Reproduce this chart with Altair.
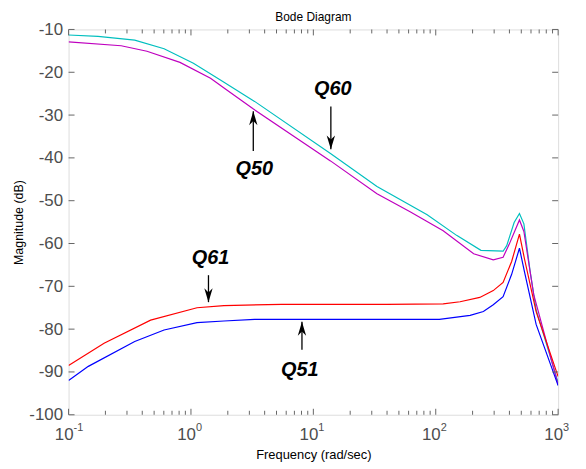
import altair as alt
import pandas as pd

# ---------------- data ----------------
freq_q60 = [0.1, 0.174, 0.347, 0.603, 1.047, 1.74, 3.31, 13.8, 33.1, 85.1, 148, 234, 355, 380, 437, 483, 525, 589, 661, 1000]
mag_q60 = [-11.3, -11.6, -12.5, -14.5, -17.9, -21.8, -26.8, -39.0, -46.7, -53.3, -58.1, -61.6, -61.8, -60.5, -55.1, -53.0, -55.4, -66.3, -75.5, -92.5]

freq_q50 = [0.1, 0.269, 0.437, 0.813, 1.445, 1.95, 3.24, 13.8, 33.1, 61.7, 115, 204, 295, 355, 398, 483, 525, 631, 1000]
mag_q50 = [-12.9, -13.8, -15.1, -17.7, -21.4, -24.1, -28.6, -40.7, -48.4, -52.6, -57.0, -62.4, -63.8, -63.2, -60.2, -54.5, -57.2, -71.9, -93.0]

freq_q61 = [0.1, 0.195, 0.468, 1.12, 1.86, 5.5, 39.8, 115, 158, 229, 295, 355, 417, 483, 530, 661, 1000]
mag_q61 = [-88.5, -83.3, -77.9, -75.0, -74.5, -74.2, -74.2, -74.1, -73.6, -72.6, -71.0, -69.1, -64.2, -57.8, -63.5, -75.9, -91.1]

freq_q51 = [0.1, 0.145, 0.347, 0.603, 1.12, 1.86, 3.31, 107, 191, 245, 295, 355, 417, 483, 530, 661, 1000]
mag_q51 = [-92.0, -88.7, -82.9, -80.2, -78.5, -78.1, -77.7, -77.7, -76.8, -75.9, -74.3, -72.4, -67.2, -61.1, -66.5, -78.9, -93.2]

series_names = ["Q60", "Q50", "Q61", "Q51"]
series_colors = ["#00BFBF", "#BF00BF", "#FF0000", "#0000FF"]

chart_title = "Bode Diagram"

# annotations
ann_labels = ["Q60", "Q50", "Q61", "Q51"]
ann_text_freq = [14.4, 3.29, 1.445, 7.76]
ann_text_mag = [-24.0, -42.6, -63.5, -89.5]
arrow_freq = [13.9, 3.23, 1.39, 8.07]
arrow_from = [-28.0, -38.4, -67.4, -84.8]
arrow_to = [-38.0, -29.1, -73.7, -78.3]

# axis ticks / labels
x_decades = [0.1, 1, 10, 100, 1000]
x_exponents = ["-1", "0", "1", "2", "3"]
x_minor = [k * d for d in [0.1, 1, 10, 100] for k in range(2, 10)]
y_ticks = [-100, -90, -80, -70, -60, -50, -40, -30, -20, -10]

# ---------------- build tables ----------------
rows = []
for name, fs, ms in zip(series_names,
                        [freq_q60, freq_q50, freq_q61, freq_q51],
                        [mag_q60, mag_q50, mag_q61, mag_q51]):
    for f, m in zip(fs, ms):
        rows.append({"series": name, "freq": f, "mag": m})
lines_df = pd.DataFrame(rows)

ann_df = pd.DataFrame({"label": ann_labels, "freq": ann_text_freq, "mag": ann_text_mag})
arr_df = pd.DataFrame({"freq": arrow_freq, "mag": arrow_from, "mag2": arrow_to})
arr_df["dir"] = ["down" if t < f else "up" for f, t in zip(arrow_from, arrow_to)]
head_df = pd.DataFrame({"freq": arrow_freq, "mag": arrow_to, "dir": arr_df["dir"]})

xmaj_df = pd.DataFrame({"freq": x_decades, "exp": x_exponents})
xmin_df = pd.DataFrame({"freq": x_minor})
yt_df = pd.DataFrame({"mag": y_ticks})
title_df = pd.DataFrame({"t": [chart_title]})

W, H = 493, 388
FONT = "Liberation Sans"
AX = "#666666"

X = alt.X("freq:Q",
          scale=alt.Scale(type="log", domain=[0.1, 1000], nice=False),
          axis=alt.Axis(labels=False, ticks=False, domain=False, grid=False,
                        title="Frequency  (rad/sec)", titleFontSize=13,
                        titleFontWeight="normal", titleColor="black",
                        titlePadding=34, titleFont=FONT))
Y = alt.Y("mag:Q",
          scale=alt.Scale(domain=[-100, -10], nice=False, zero=False),
          axis=alt.Axis(values=y_ticks, labelExpr="datum.value + ''",
                        labelFontSize=17, labelColor="#4d4d4d", labelFont=FONT,
                        labelPadding=6, ticks=False, domain=False, grid=False,
                        title="Magnitude (dB)", titleFontSize=12.5,
                        titleFontWeight="normal", titleColor="black",
                        titlePadding=3, titleFont=FONT))

lines = alt.Chart(lines_df).mark_line(strokeWidth=1.2, clip=True).encode(
    x=X, y=Y,
    color=alt.Color("series:N", scale=alt.Scale(domain=series_names, range=series_colors), legend=None),
    detail="series:N",
)

# inward ticks
bot_major = alt.Chart(xmaj_df).mark_rule(color=AX, strokeWidth=1).encode(
    x=X, y=alt.value(H), y2=alt.value(H - 6))
top_major = alt.Chart(xmaj_df).mark_rule(color=AX, strokeWidth=1).encode(
    x=X, y=alt.value(0), y2=alt.value(6))
bot_minor = alt.Chart(xmin_df).mark_rule(color=AX, strokeWidth=1).encode(
    x=X, y=alt.value(H), y2=alt.value(H - 4))
top_minor = alt.Chart(xmin_df).mark_rule(color=AX, strokeWidth=1).encode(
    x=X, y=alt.value(0), y2=alt.value(4))
left_t = alt.Chart(yt_df).mark_rule(color=AX, strokeWidth=1).encode(
    y=Y, x=alt.value(0), x2=alt.value(6))
right_t = alt.Chart(yt_df).mark_rule(color=AX, strokeWidth=1).encode(
    y=Y, x=alt.value(W), x2=alt.value(W - 6))

# x tick labels 10^n
lab10 = alt.Chart(xmaj_df).mark_text(align="right", baseline="alphabetic", dx=5,
                                     fontSize=17, color="#4d4d4d", font=FONT).encode(
    x=X, y=alt.value(H + 25), text=alt.value("10"))
labexp = alt.Chart(xmaj_df).mark_text(align="left", baseline="alphabetic", dx=5, dy=-9,
                                      fontSize=11, color="#4d4d4d", font=FONT).encode(
    x=X, y=alt.value(H + 25), text="exp:N")

# chart title as text
title_txt = alt.Chart(title_df).mark_text(fontSize=12, font=FONT, color="black",
                                          baseline="middle", align="center").encode(
    x=alt.value(W / 2), y=alt.value(-13), text="t:N")

# annotations
shafts = alt.Chart(arr_df).mark_rule(color="black", strokeWidth=1.3).encode(
    x=X, y=Y, y2="mag2:Q")
heads_down = alt.Chart(head_df).transform_filter("datum.dir == 'down'").mark_point(
    shape="M0,0L-0.6,-2L0,-1.4L0.6,-2Z", size=196, filled=True, color="black", opacity=1).encode(x=X, y=Y)
heads_up = alt.Chart(head_df).transform_filter("datum.dir == 'up'").mark_point(
    shape="M0,0L-0.6,2L0,1.4L0.6,2Z", size=196, filled=True, color="black", opacity=1).encode(x=X, y=Y)
ann_text = alt.Chart(ann_df).mark_text(fontSize=20, fontWeight="bold", fontStyle="italic",
                                       font=FONT, color="black").encode(
    x=X, y=Y, text="label:N")

chart = alt.layer(
    lines, bot_major, top_major, bot_minor, top_minor, left_t, right_t,
    lab10, labexp, title_txt, shafts, heads_down, heads_up, ann_text
).properties(
    width=W, height=H,
    autosize=alt.AutoSizeParams(type="none"),
    padding={"left": 61, "top": 20, "right": 20, "bottom": 50},
).configure_view(
    stroke=AX, strokeWidth=1.5
).configure(background="white")

chart.save("out.html", embed_options={"renderer": "svg", "actions": False})
